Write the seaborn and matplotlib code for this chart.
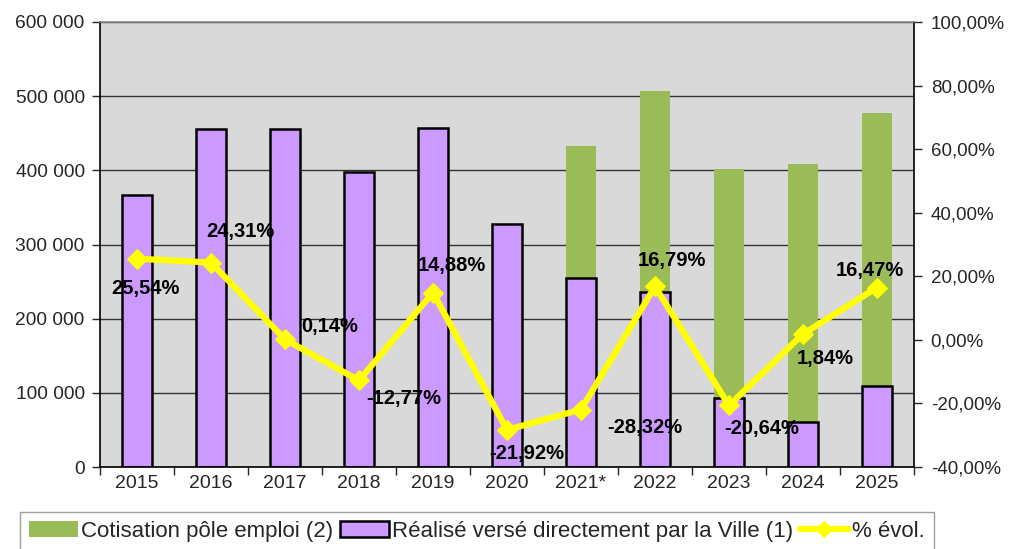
import numpy as np
import pandas as pd
import matplotlib
matplotlib.use("Agg")
import matplotlib.pyplot as plt
from matplotlib.patches import Patch
from matplotlib.lines import Line2D
import seaborn as sns

# values
years = ["2015", "2016", "2017", "2018", "2019", "2020", "2021*", "2022", "2023", "2024", "2025"]
ville = [366700, 455700, 455700, 397800, 457100, 327600, 254400, 236000, 93500, 60200, 108800]
pole_emploi = [0, 0, 0, 0, 0, 0, 178800, 270500, 308300, 348800, 368100]
evol = [25.54, 24.31, 0.14, -12.77, 14.88, -28.32, -21.92, 16.79, -20.64, 1.84, 16.47]
evol_labels = ["25,54%", "24,31%", "0,14%", "-12,77%", "14,88%", "-28,32%",
               "-21,92%", "16,79%", "-20,64%", "1,84%", "16,47%"]
# label offsets in pixels (dx, dy) as placed on the original chart
label_offsets = [(8, -30), (29, 31), (45, 13), (45, -18), (19, 27), (138, 2),
                 (-54, -44), (17, 26), (33, -23), (22, -24), (-7, 17)]

GREEN = "#9BBB59"
PURPLE = "#CC99FF"
YELLOW = "#FFFF00"

sns.set_style("white")
plt.rcParams["font.family"] = ["Liberation Sans", "DejaVu Sans"]

df = pd.DataFrame({"year": years, "ville": ville, "pole": pole_emploi, "evol": evol})
df["total"] = df["ville"] + df["pole"]

fig = plt.figure(figsize=(10.18, 5.49), dpi=100)
ax = fig.add_axes([100 / 1018, 1 - 467 / 549, 814 / 1018, 445 / 549])
ax.set_facecolor("#D9D9D9")

sns.barplot(data=df, x="year", y="total", color=GREEN, width=0.4, ax=ax,
            saturation=1, edgecolor="none", linewidth=0)
sns.barplot(data=df, x="year", y="ville", color=PURPLE, width=0.4, ax=ax,
            saturation=1, edgecolor="black", linewidth=1.8)

ax.set_ylim(0, 600000)
ax.set_xlim(-0.5, len(years) - 0.5)
ax.set_yticks(np.arange(0, 600001, 100000))
ax.set_yticklabels([f"{v:,}".replace(",", " ") for v in range(0, 600001, 100000)])
ax.yaxis.grid(True, color="#333333", linewidth=1)
ax.set_axisbelow(True)
ax.set_xlabel("")
ax.set_ylabel("")
ax.tick_params(axis="y", labelsize=13.8, length=6, width=1, direction="out", left=True, pad=5)
ax.tick_params(axis="x", labelsize=14, length=0, pad=6)
# category boundary ticks on x axis
ax.set_xticks(np.arange(-0.5, len(years), 1), minor=True)
ax.tick_params(axis="x", which="minor", length=6, width=1, direction="out", bottom=True)
for s in ax.spines.values():
    s.set_color("black")
    s.set_linewidth(1.2)
ax.spines["top"].set_color("#888888")

ax2 = ax.twinx()
sns.lineplot(x=np.arange(len(years)), y=df["evol"], ax=ax2, color=YELLOW, linewidth=4.5,
             marker="D", markersize=10, markeredgecolor=YELLOW)
ax2.set_ylim(-40, 100)
ax2.set_yticks(np.arange(-40, 101, 20))
ax2.set_yticklabels([f"{v:.2f}%".replace(".", ",") for v in range(-40, 101, 20)])
ax2.tick_params(axis="y", labelsize=13.5, length=6, width=1, direction="out", right=True, pad=6)
ax2.set_ylabel("")
for s in ax2.spines.values():
    s.set_visible(False)

for i, (txt, off) in enumerate(zip(evol_labels, label_offsets)):
    ax2.annotate(txt, (i, evol[i]), xytext=off, textcoords="offset pixels",
                 ha="center", va="center", fontsize=14.5, fontweight="bold", color="black")

handles = [Patch(facecolor=GREEN, edgecolor="none"),
           Patch(facecolor=PURPLE, edgecolor="black", linewidth=1.8),
           Line2D([0], [0], color=YELLOW, linewidth=4.5, marker="D", markersize=8)]
labels = ["Cotisation pôle emploi (2)", "Réalisé versé directement par la Ville (1)", "% évol."]
leg = fig.legend(handles, labels, loc="upper left", bbox_to_anchor=(20 / 1018, 1 - 512 / 549),
                 ncol=3, fontsize=16, frameon=True, fancybox=False, handlelength=2.2,
                 handletextpad=0.15, columnspacing=0.3, borderpad=0.4, borderaxespad=0)
leg.get_frame().set_edgecolor("#888888")
leg.get_frame().set_linewidth(1)

fig.savefig("out.png", dpi=100)
